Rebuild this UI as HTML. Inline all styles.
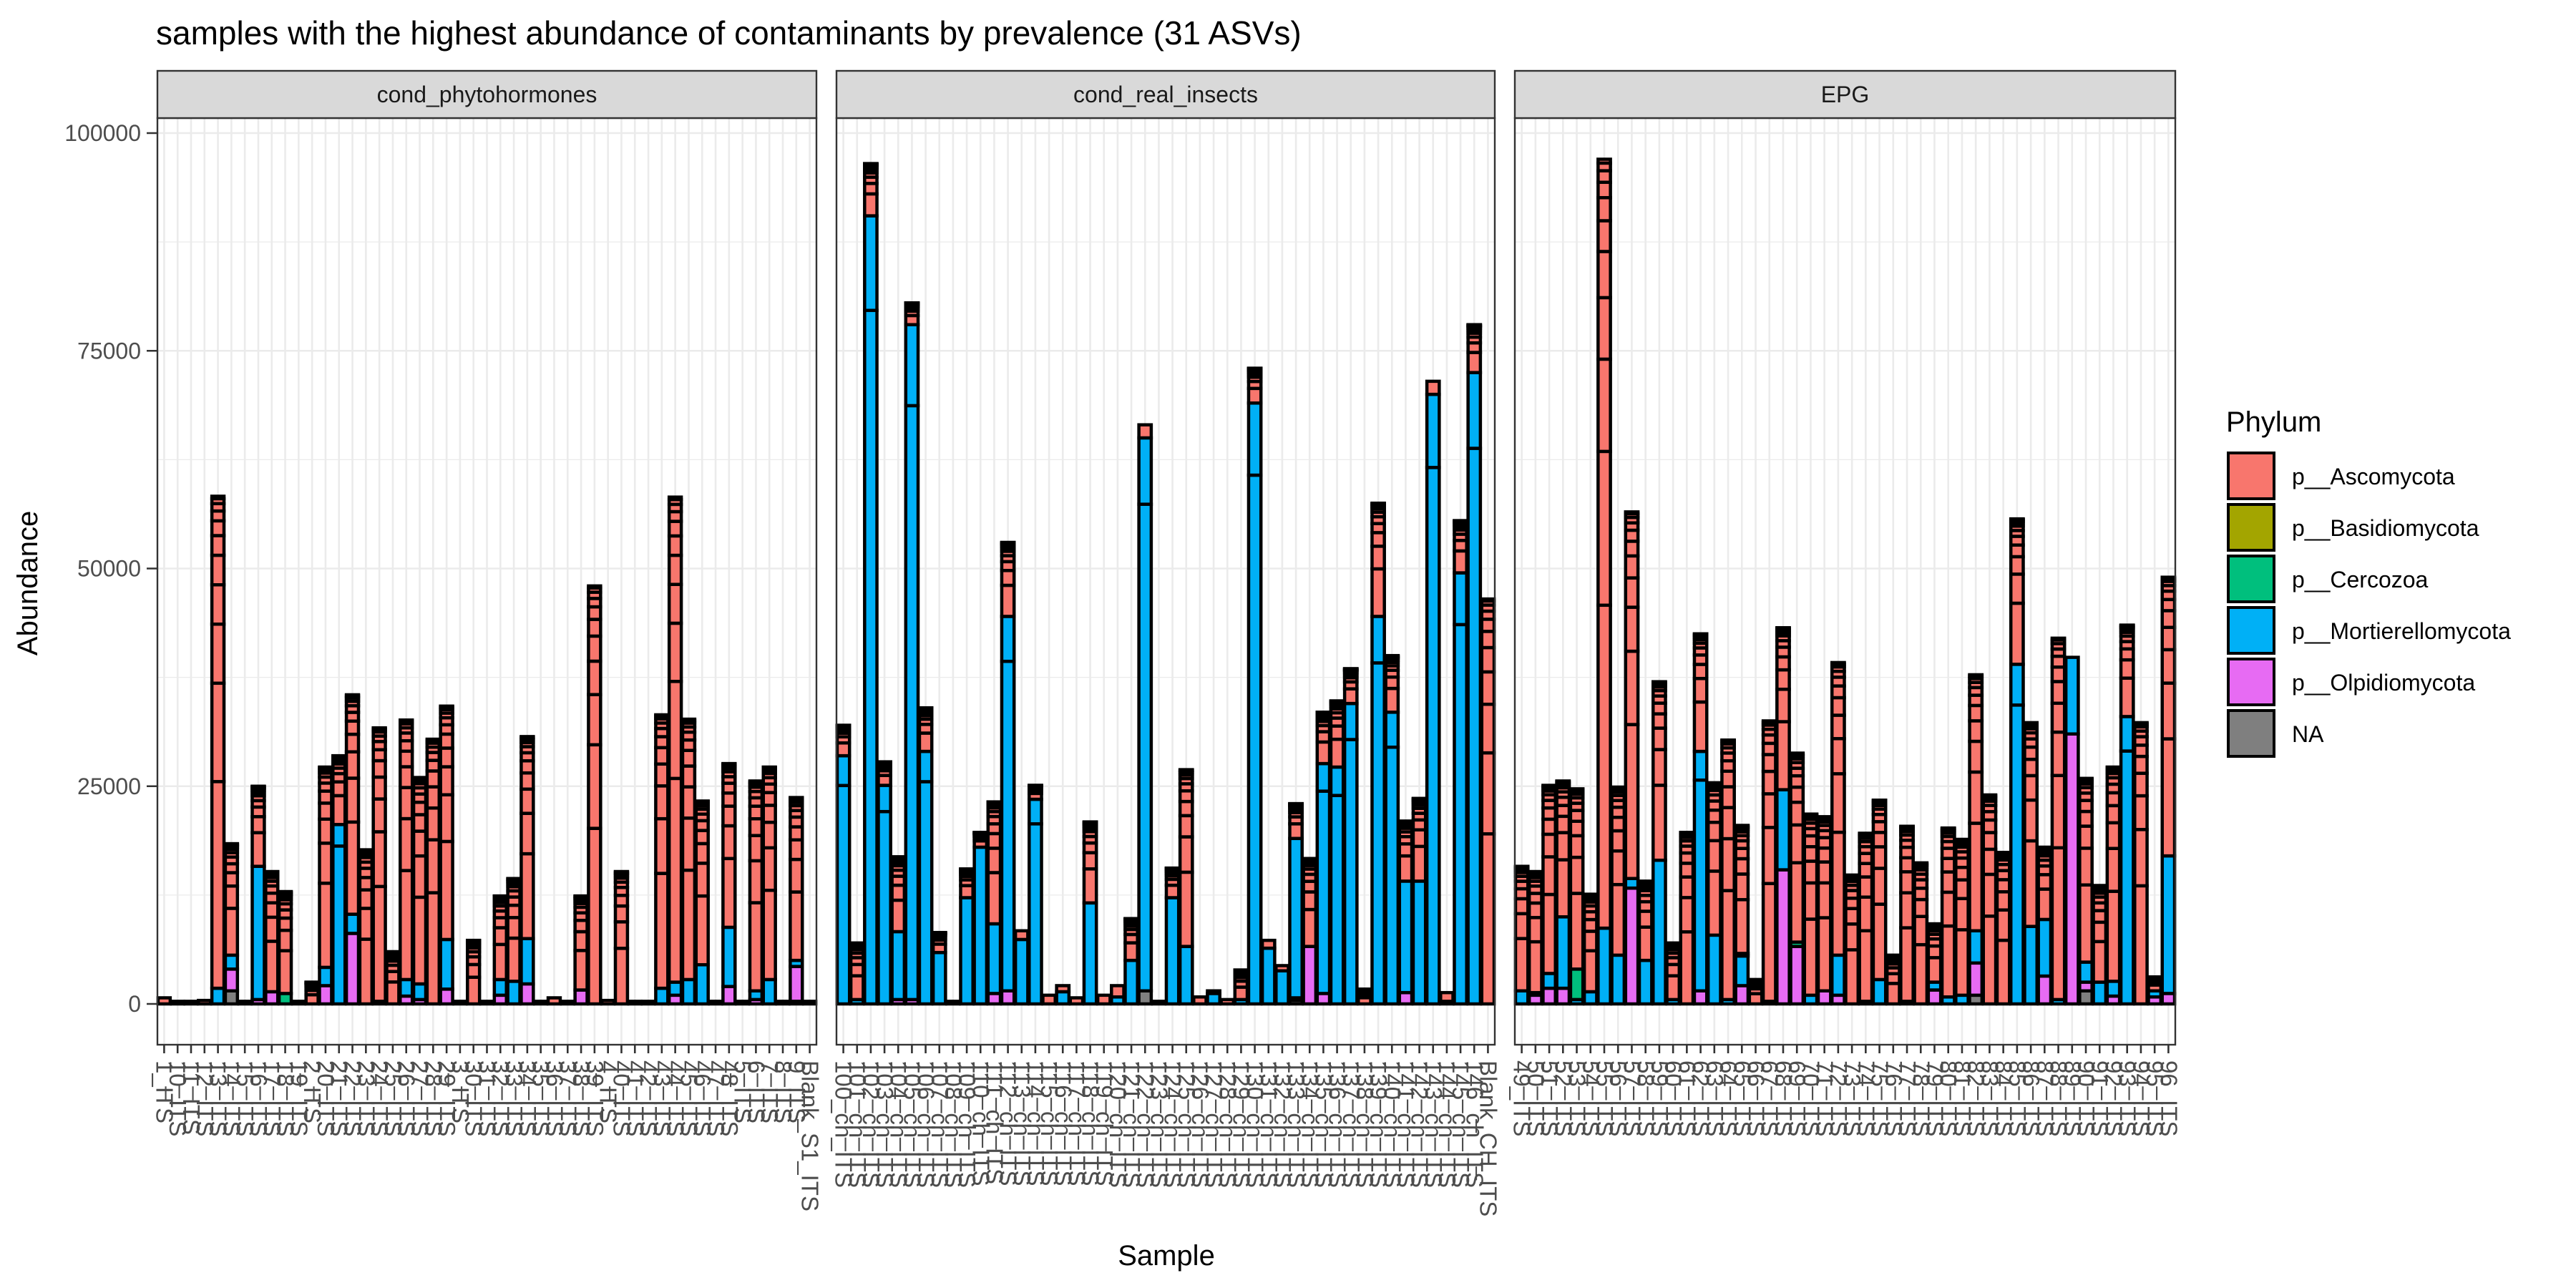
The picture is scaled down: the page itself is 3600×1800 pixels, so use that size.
<!DOCTYPE html>
<html><head><meta charset="utf-8"><style>
html,body{margin:0;padding:0;background:#fff;}
svg{display:block;font-family:"Liberation Sans",Arial,sans-serif;}
</style></head><body>
<svg id="chart" width="3600" height="1800" viewBox="0 0 3600 1800">
<text x="218" y="62" font-size="46" fill="#000">samples with the highest abundance of contaminants by prevalence (31 ASVs)</text>
<text transform="translate(52,815) rotate(-90)" text-anchor="middle" font-size="40" fill="#000">Abundance</text>
<text x="1630" y="1768" text-anchor="middle" font-size="40" fill="#000">Sample</text>
<g id="panels"></g>
<g id="legend">
<text x="3111" y="603" font-size="40" fill="#000">Phylum</text>
</g>
</svg>
<script>
// ---- data (abundance in thousands) ----
const panelNames = ["cond_phytohormones","cond_real_insects","EPG"];
const total1 = [0.7,0.3,0.3,0.4,58.3,18.4,0.3,25,15.2,12.9,0.3,2.5,27.2,28.5,35.5,17.7,31.7,6,32.6,26,30.4,34.2,0.3,7.3,0.3,12.4,14.4,30.7,0.3,0.7,0.3,12.4,48,0.4,15.2,0.3,0.3,33.2,58.2,32.7,23.3,0.3,27.6,0.3,25.6,27.2,0.3,23.7,0.3];
const mort1 = [0,0,0,0,1.8,1.6,0,15.3,0,0,0,0,2.1,20.6,2.2,0,0,0,1.9,1.8,0,5.7,0,0,0,1.8,2.6,5.2,0,0,0,0,0,0,0,0,0,1.8,1.5,2.8,4.5,0,6.8,0,1.0,2.8,0,0.7,0];
const olpi1 = [0,0,0,0,0,2.5,0,0.5,1.4,0,0,0,2.1,0,8.1,0,0.3,0,0.9,0.5,0,1.7,0,0,0,1.0,0,2.3,0,0,0,1.6,0,0,0,0,0,0,1.0,0,0,0,2.0,0,0.5,0,0,4.0,0];
const cerc1 = [0,0,0,0,0,0,0,0,0,1.2,0,0,0,0,0,0,0,0,0,0,0,0,0,0,0,0,0,0,0,0,0,0,0,0,0,0,0,0,0,0,0,0,0,0,0,0,0,0,0];
const basid1 = [0,0,0,0,0,0,0,0,0,0,0,0,0,0,0,0,0,0,0,0,0,0,0,0,0,0,0,0,0,0,0,0,0,0,0,0,0,0,0,0,0,0,0,0,0,0,0,0,0];
const na1 = [0,0,0,0,0,1.5,0,0,0,0,0,0,0,0,0,0,0,0,0,0,0,0,0,0,0,0,0,0,0,0,0,0,0,0,0,0,0,0,0,0,0,0,0,0,0,0,0,0.3,0];

const total2 = [32,7,96.5,27.8,16.9,80.5,34,8.2,0.3,15.5,19.7,23.2,53,8.4,25.1,1,2.1,0.7,20.9,1,2.1,9.8,66.5,0.3,15.6,26.9,0.8,1.5,0.5,3.9,73,7.3,4.4,23,16.7,33.5,34.8,38.5,1.7,57.5,40,21,23.6,71.5,1.3,55.5,78,46.5];
const mort2 = [28.5,0.5,90.5,25.1,7.8,77.5,29,5.9,0,12.2,18,8.0,43,7.4,23.5,0,1.4,0,11.6,0,0.8,5.0,63.5,0,12.2,6.6,0,1.2,0,0.5,69,6.4,3.8,18.3,0,26.4,27.2,34.5,0,44.5,33.5,12.8,14.1,70,0.3,49.5,72.5,0];
const olpi2 = [0,0,0,0,0.5,0.5,0,0,0,0,0,1.2,1.5,0,0,0,0,0,0,0,0,0,0,0,0,0,0,0,0,0,0,0,0,0.3,6.6,1.2,0,0,0,0,0,1.3,0,0,0,0,0,0];
const cerc2 = [0,0,0,0,0,0,0,0,0,0,0,0,0,0,0,0,0,0,0,0,0,0,0,0,0,0,0,0,0,0,0,0,0,0,0,0,0,0,0,0,0,0,0,0,0,0,0,0];
const basid2 = [0,0,0,0,0,0,0,0,0,0,0,0,0,0,0,0,0,0,0,0,0,0,0,0,0,0,0,0,0,0,0,0,0,0,0,0,0,0,0,0,0,0,0,0,0,0,0,0];
const na2 = [0,0,0,0,0,0,0,0,0,0,0,0,0,0,0,0,0,0,0,0,0,0,1.5,0,0,0,0,0,0,0,0,0,0,0.4,0,0,0,0,0,0,0,0,0,0,0,0,0,0];

const total3 = [15.8,15.2,25.1,25.6,24.7,12.6,97,24.9,56.5,14.1,37,7,19.7,42.5,25.4,30.3,20.5,2.8,32.5,43.2,28.8,21.8,21.5,39.2,14.8,19.6,23.4,5.6,20.4,16.2,9.2,20.2,18.9,37.8,24,17.4,55.7,32.3,18,42,39.8,25.9,13.6,27.2,43.5,32.3,3.1,49];
const mort3 = [1.5,0.3,1.7,8.2,0.5,1.4,8.7,5.6,1.1,5,16.5,0.5,0,27.5,7.9,0.5,3.4,0,0.3,9.2,0,1,0,4.6,0,0.3,2.8,0,0,0,0.9,0.8,1,3.7,0,0,39,8.9,6.5,0.5,8.8,2.3,2.5,1.7,33,0,0.7,15.8];
const olpi3 = [0,1,1.8,1.8,0,0,0,0,13.3,0,0,0,0,1.5,0,0,2.1,0,0,15.4,6.6,0,1.5,1,0,0,0,0,0,0,1.6,0,0,3.7,0,0,0,0,3.2,0,31,1,0,0.9,0,0,0.8,1.2];
const cerc3 = [0,0,0,0,3.5,0,0,0,0,0,0,0,0,0,0,0,0,0,0,0,0.5,0,0,0,0,0,0,0,0.3,0,0,0,0,0,0,0,0,0,0,0,0,0,0,0,0,0,0,0];
const basid3 = [0,0,0,0,0,0,0,0,0,0,0,0,0,0,0,0,0.3,0,0,0,0,0,0,0,0,0,0,0,0,0,0,0,0,0,0,0,0,0,0,0,0,0,0,0,0,0,0,0];
const na3 = [0,0,0,0,0,0,0,0,0,0,0,0,0,0,0,0,0,0,0,0,0,0,0,0,0,0,0,0,0,0,0,0,0,1.0,0,0,0,0,0,0,0,1.5,0,0,0,0,0,0];

const yTicks = [0,25000,50000,75000,100000];
const yTickLabels = ["0","25000","50000","75000","100000"];
const legendLabels = ["p__Ascomycota","p__Basidiomycota","p__Cercozoa","p__Mortierellomycota","p__Olpidiomycota","NA"];
</script>
<script>
(function(){
const NS="http://www.w3.org/2000/svg";
const svg=document.getElementById('chart');
const panelsG=document.getElementById('panels');
function mk(tag,attrs,parent){const e=document.createElementNS(NS,tag);for(const k in attrs)e.setAttribute(k,attrs[k]);(parent||svg).appendChild(e);return e;}
const COL={asco:"#F8766D",basid:"#A3A500",cerc:"#00BF7D",mort:"#00B0F6",olpi:"#E76BF3",na:"#7F7F7F"};
const PX=[220,1169,2117], PW=[921,920,923];
const PT=165, PB=1460;
const y=v=>1403 - v*1217/100000;
function labels1(){const a=["1_ITS"];for(let i=10;i<=19;i++)a.push(i+"_ITS");a.push("2_ITS");for(let i=20;i<=29;i++)a.push(i+"_ITS");a.push("3_ITS");for(let i=30;i<=39;i++)a.push(i+"_ITS");a.push("4_ITS");for(let i=40;i<=48;i++)a.push(i+"_ITS");["5","6","7","8","9"].forEach(d=>a.push(d+"_ITS"));a.push("Blank_S1_ITS");return a;}
function labels2(){const a=[];for(let i=100;i<=146;i++)a.push(i+"_ch_ITS");a.push("Blank_CH_ITS");return a;}
function labels3(){const a=[];for(let i=49;i<=96;i++)a.push(i+"_ITS");return a;}
const panels=[
 {tot:total1,mort:mort1,olpi:olpi1,cerc:cerc1,basid:basid1,na:na1,labels:labels1()},
 {tot:total2,mort:mort2,olpi:olpi2,cerc:cerc2,basid:basid2,na:na2,labels:labels2()},
 {tot:total3,mort:mort3,olpi:olpi3,cerc:cerc3,basid:basid3,na:na3,labels:labels3()}];
const ascoSplit=[0.42,0.2,0.12,0.08,0.06,0.04,0.03,0.02,0.015,0.01,0.005];
const mortSplit=[0.88,0.12];
yTicks.forEach((t,i)=>{
 const tl=mk('text',{x:197,y:y(t)+11,'text-anchor':'end','font-size':32,fill:'#4D4D4D'});
 
 
 tl.textContent=yTickLabels[i];
 const tk=mk('line',{x1:205,x2:219,y1:y(t),y2:y(t),stroke:'#333',"stroke-width":2.5});
 
 
});
panels.forEach((p,pi)=>{
 const g=mk('g',{},panelsG);
 
 
 const x0=PX[pi],w=PW[pi],n=p.tot.length,slot=w/n;
 const bg=mk('rect',{x:x0,y:PT,width:w,height:PB-PT,fill:'#fff'},g);
 
 
 for(let v=12500;v<=112500;v+=25000){const yy=y(v);if(yy>PT)mk('line',{x1:x0,x2:x0+w,y1:yy,y2:yy,stroke:'#EBEBEB','stroke-width':1.3},g);}
 yTicks.forEach(t=>{mk('line',{x1:x0,x2:x0+w,y1:y(t),y2:y(t),stroke:'#EBEBEB','stroke-width':2.6},g);});
 const xc=i=>x0+slot*(i+0.5);
 for(let i=0;i<n;i++)mk('line',{x1:xc(i),x2:xc(i),y1:PT,y2:PB,stroke:'#EBEBEB','stroke-width':2.6},g);
 const bw=slot*0.9;
 for(let i=0;i<n;i++){
  const bg2=mk('g',{},g);
  
  
  let base=0;
  const seg=(val,col,split)=>{
   if(val<=0)return;
   split.forEach(f=>{
    const v=val*f;
    const r=mk('rect',{x:xc(i)-bw/2,y:y(base+v),width:bw,height:Math.max(0.5,y(base)-y(base+v)),fill:col,stroke:'#000','stroke-width':4.5},bg2);
    
    
    base+=v;
   });
  };
  const asco=Math.max(0,p.tot[i]-p.mort[i]-p.olpi[i]-p.cerc[i]-p.basid[i]-p.na[i]);
  seg(p.na[i]*1000,COL.na,[1]);
  seg(p.olpi[i]*1000,COL.olpi,[1]);
  seg(p.mort[i]*1000,COL.mort,p.mort[i]>20?mortSplit:[1]);
  seg(p.cerc[i]*1000,COL.cerc,[1]);
  seg(p.basid[i]*1000,COL.basid,[1]);
  seg(asco*1000,COL.asco,asco>1.5?ascoSplit:[1]);
 }
 const bd=mk('rect',{x:x0,y:PT,width:w,height:PB-PT,fill:'none',stroke:'#333','stroke-width':2.4},g);
 
 
 const st=mk('rect',{x:x0,y:99,width:w,height:66,fill:'#D9D9D9',stroke:'#333','stroke-width':2.4},g);
 
 
 const stt=mk('text',{x:x0+w/2,y:143,'text-anchor':'middle','font-size':32,fill:'#1A1A1A'},g);
 
 
 stt.textContent=panelNames[pi];
 for(let i=0;i<n;i++){
  const tk=mk('line',{x1:xc(i),x2:xc(i),y1:PB,y2:PB+12,stroke:'#333','stroke-width':2.6},g);
  
  
  const tl=mk('text',{transform:`translate(${xc(i)-11},${PB+22}) rotate(90)`,'font-size':33,fill:'#4D4D4D'},g);
  
  
  tl.textContent=p.labels[i];
 }
});
const lg=document.getElementById('legend');
const lcols=[COL.asco,COL.basid,COL.cerc,COL.mort,COL.olpi,COL.na];
legendLabels.forEach((l,i)=>{
 const ky=633+i*72;
 const r=mk('rect',{x:3114,y:ky,width:64,height:64,fill:lcols[i],stroke:'#000','stroke-width':4},lg);
 
 
 const t=mk('text',{x:3203,y:ky+44,'font-size':32,fill:'#000'},lg);
 
 
 t.textContent=l;
});
})();
</script>
</body></html>
